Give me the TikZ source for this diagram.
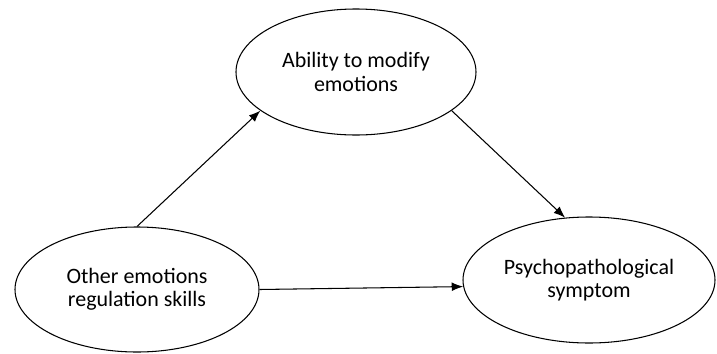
\documentclass[tikz,border=0pt]{standalone}
\usepackage{fontspec}
\setmainfont{Carlito}
\usepackage{tikz}
\usetikzlibrary{arrows.meta}
\usetikzlibrary{shapes.geometric}
\tikzstyle{every node}+=[inner sep=0pt]
\tikzstyle{factor} = [ellipse, draw, line width=0.6pt, font=\fontsize{12.5}{13.2}\selectfont, text centered, minimum height=126*0.02cm]
\tikzstyle{line} = [draw, line width=0.6pt, -{Latex[length=6.5pt, width=5pt]}]

\begin{document}
\begin{tikzpicture}[x=0.02cm, y=0.02cm, every text node part/.style={align=center}]
            \useasboundingbox (0,0) rectangle (717,353);
            % Place nodes
            \node [factor, minimum width=240*0.02cm] (ability) at (356,281) {Ability to modify\\emotions};
            \node [factor, minimum width=244*0.02cm, minimum height=125*0.02cm] (other) at (137,63.5) {Other emotions\\regulation skills};
            \node [factor, minimum width=252*0.02cm] (symptom) at (589,73) {Psychopathological\\symptom};
            % Draw edges
            \path [line] (other.north) -- (ability.202);
            \path [line] (ability.338) -- (symptom.111);
            \path [line] (other.east) -- (symptom.183);
\end{tikzpicture}
\end{document}
